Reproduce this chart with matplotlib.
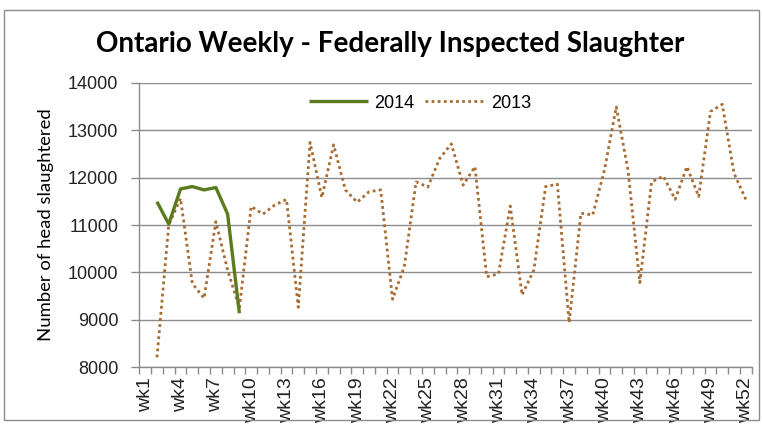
import numpy as np
import matplotlib
matplotlib.use("Agg")
import matplotlib.pyplot as plt
from matplotlib.patches import Rectangle

nan = np.nan
weeks = list(range(1, 53))
tick_weeks = [1, 4, 7, 10, 13, 16, 19, 22, 25, 28, 31, 34, 37, 40, 43, 46, 49, 52]
tick_labels = ["wk1", "wk4", "wk7", "wk10", "wk13", "wk16", "wk19", "wk22", "wk25",
               "wk28", "wk31", "wk34", "wk37", "wk40", "wk43", "wk46", "wk49", "wk52"]

weeks_2014 = [1, 2, 3, 4, 5, 6, 7, 8, 9]
head_2014 = [nan, 11490, 11020, 11760, 11810, 11740, 11790, 11230, 9140]

head_2013 = [nan, 8210, 11000, 11560, 9770, 9455, 11070, 10050, 9250, 11390,
             11230, 11420, 11540, 9265, 12740, 11580, 12690, 11740, 11480, 11700,
             11740, 9435, 10120, 11910, 11800, 12400, 12710, 11840, 12230, 9910,
             9970, 11400, 9525, 10050, 11810, 11860, 8940, 11250, 11210, 12160,
             13490, 12150, 9785, 11910, 12030, 11540, 12230, 11600, 13390, 13545,
             12090, 11540]

green = "#5B7B1E"
brown = "#A86B32"
grid_c = "#8C8C8C"

fig = plt.figure(figsize=(7.63, 4.30), dpi=100)
fig.patches.append(Rectangle((4 / 763, 10 / 430), 755 / 763, 410 / 430,
                             transform=fig.transFigure, fill=False,
                             edgecolor="#8C8C8C", linewidth=1.0))

ax = fig.add_axes([139.3 / 763, (430 - 367.3) / 430, 612.4 / 763, 284.6 / 430])

ax.plot(weeks_2014, head_2014, color=green, linewidth=2.4, label="2014",
        solid_capstyle="butt", zorder=3)
ax.plot(weeks, head_2013, color=brown, linewidth=2.0, linestyle=(0, (1, 1.2)),
        label="2013", zorder=2)

ax.set_xlim(0.5, 52.5)
ax.set_ylim(8000, 14000)
ax.set_yticks([8000, 9000, 10000, 11000, 12000, 13000, 14000])
ax.set_xticks(tick_weeks)
ax.set_xticklabels(tick_labels, rotation=90, fontsize=14,
                   family="Liberation Sans", color="#222222")
ax.set_xticks(np.arange(0.5, 53, 1), minor=True)
ax.tick_params(axis="x", which="major", length=0, pad=7)
ax.tick_params(axis="x", which="minor", length=5, color=grid_c, width=1)
ax.tick_params(axis="y", length=6, color=grid_c, width=1, pad=9,
               labelsize=13, labelcolor="#222222")
for lab in ax.get_yticklabels():
    lab.set_family("Liberation Sans")

ax.yaxis.grid(True, color=grid_c, linewidth=1.0)
ax.set_axisbelow(True)
for s in ["top", "right"]:
    ax.spines[s].set_visible(False)
for s in ["left", "bottom"]:
    ax.spines[s].set_color(grid_c)
    ax.spines[s].set_linewidth(1.0)

ax.set_ylabel("Number of head slaughtered", fontsize=13.3, family="Lato")
ax.yaxis.set_label_coords(-0.139, 0.5)

fig.text(390 / 763, 1 - 44 / 430, "Ontario Weekly - Federally Inspected Slaughter",
         ha="center", va="center", fontsize=20, fontweight="bold", family="Lato")

leg = ax.legend(loc="center", bbox_to_anchor=((420 - 139.3) / 612.4, (367.3 - 103) / 284.6),
                ncol=2, frameon=False, prop={"family": "Liberation Sans", "size": 13},
                handlelength=3.3, columnspacing=0.6, handletextpad=0.35)

fig.savefig("out.png", dpi=100)
